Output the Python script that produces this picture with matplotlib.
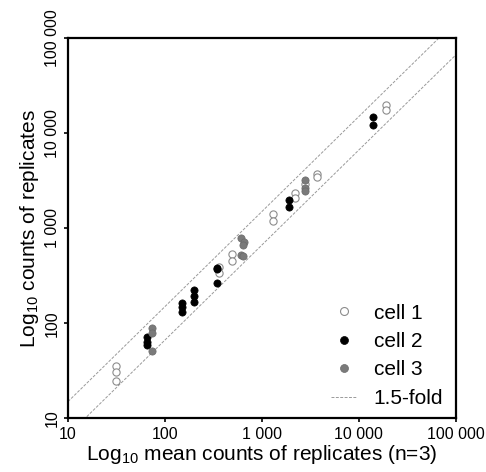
import matplotlib
matplotlib.use("Agg")
import matplotlib.pyplot as plt
from matplotlib.ticker import FixedLocator, NullLocator
import numpy as np

plt.rcParams['font.family'] = ['Liberation Sans', 'DejaVu Sans']
plt.rcParams['mathtext.fontset'] = 'custom'
plt.rcParams['mathtext.rm'] = 'Liberation Sans'
plt.rcParams['mathtext.it'] = 'Liberation Sans'

# mean counts (x) and replicate counts (y) per cell
cell1_x = [31, 31, 31, 364, 364, 489, 489, 1303, 1303, 2220, 2220, 2800, 3700, 3700, 19100, 19100]
cell1_y = [35.8, 31, 24.9, 394, 336, 532, 457, 1403, 1205, 2371, 2070, 2900, 3700, 3500, 19700, 17600]
cell2_x = [66, 66, 66, 151, 151, 151, 200, 200, 200, 348, 348, 348, 1923, 1923, 14000, 14000]
cell2_y = [72.4, 64.1, 59.2, 162, 147, 133, 224, 195, 166, 385, 370, 266, 1987, 1687, 14720, 12220]
cell3_x = [74, 74, 74, 606, 655, 635, 614, 644, 2812, 2812, 2812]
cell3_y = [88.5, 78.5, 51.6, 790, 722, 667, 524, 515, 3220, 2636, 2472]

fold = 1.5
line_x = [10, 100000]
tick_vals = [10, 100, 1000, 10000, 100000]
tick_labels = ["10", "100", "1 000", "10 000", "100 000"]

fig = plt.figure(figsize=(4.86, 4.72), dpi=100)
ax = fig.add_axes([0.140, 0.1138, 0.7977, 0.8051])

ax.plot(line_x, np.multiply(line_x, fold), color="#9a9a9a", lw=0.7,
        linestyle=(0, (3, 1.5)), label="1.5-fold", zorder=1)
ax.plot(line_x, np.divide(line_x, fold), color="#9a9a9a", lw=0.7,
        linestyle=(0, (3, 1.5)), zorder=1)

ax.plot(cell1_x, cell1_y, 'o', ms=5.2, mfc="white", mec="#8c8c8c", mew=0.8,
        linestyle='none', label="cell 1", zorder=3)
ax.plot(cell2_x, cell2_y, 'o', ms=5.2, mfc="black", mec="black", mew=0.5,
        linestyle='none', label="cell 2", zorder=3)
ax.plot(cell3_x, cell3_y, 'o', ms=5.2, mfc="#7a7a7a", mec="#6a6a6a", mew=0.5,
        linestyle='none', label="cell 3", zorder=3)

ax.set_xscale("log")
ax.set_yscale("log")
ax.set_xlim(10, 100000)
ax.set_ylim(10, 100000)

ax.xaxis.set_major_locator(FixedLocator(tick_vals))
ax.yaxis.set_major_locator(FixedLocator(tick_vals))
ax.xaxis.set_minor_locator(NullLocator())
ax.yaxis.set_minor_locator(NullLocator())
ax.set_xticklabels(tick_labels, fontsize=11.5)
ax.set_yticklabels(tick_labels, fontsize=11.5, rotation=90, va="center")
ax.tick_params(direction="out", length=3, width=1.2, pad=3)

for s in ax.spines.values():
    s.set_linewidth(1.6)

ax.set_xlabel(r"Log$_{10}$ mean counts of replicates (n=3)", fontsize=15, labelpad=1)
ax.set_ylabel(r"Log$_{10}$ counts of replicates", fontsize=15, labelpad=3)

handles, labels = ax.get_legend_handles_labels()
order = [1, 2, 3, 0]
ax.legend([handles[i] for i in order], [labels[i] for i in order],
          loc="lower right", frameon=False, fontsize=15, handlelength=1.2,
          handletextpad=0.85, labelspacing=0.45, borderaxespad=0.1,
          bbox_to_anchor=(0.995, 0.0), markerscale=1.1)

plt.savefig("out.png", dpi=100)
